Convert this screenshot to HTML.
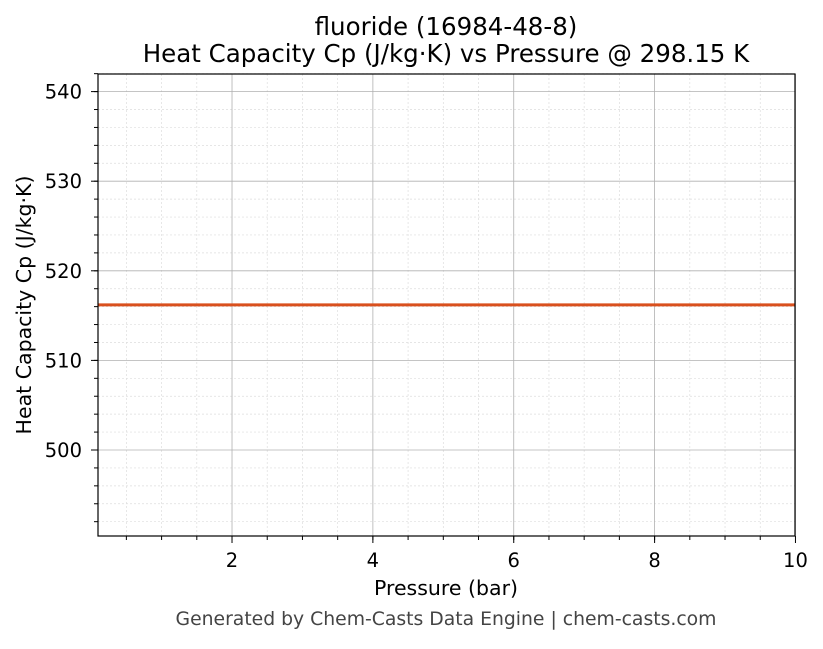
<!DOCTYPE html><html><head><style>body{margin:0;background:#fff}text{font-family:"DejaVu Sans","Liberation Sans",sans-serif}</style></head><body>
<svg width="823" height="644" xmlns="http://www.w3.org/2000/svg">
<rect width="823" height="644" fill="#fff"/>
<g id="g"></g>
<text x="446" y="35" font-size="24.5" text-anchor="middle">fluoride (16984-48-8)</text>
<text x="446" y="62" font-size="24.5" text-anchor="middle">Heat Capacity Cp (J/kg·K) vs Pressure @ 298.15 K</text>
<text x="446" y="595" font-size="20.5" text-anchor="middle">Pressure (bar)</text>
<text x="446" y="625" font-size="18.8" fill="#444" text-anchor="middle">Generated by Chem-Casts Data Engine | chem-casts.com</text>
<text transform="translate(31,305) rotate(-90)" font-size="20.5" text-anchor="middle">Heat Capacity Cp (J/kg·K)</text>
</svg>
<script>
const s=document.querySelector('svg'),g=document.getElementById('g');let h='';
const X=v=>98.2+(v-0.1)*70.43,Y=v=>450-(v-500)*8.96;
for(let v=0.5;v<10;v+=0.5){if(v%2)h+=`<line x1="${X(v)}" x2="${X(v)}" y1="74" y2="536" stroke="#ddd" stroke-width="0.7" stroke-dasharray="2,2"/>`;h+=`<line x1="${X(v)}" x2="${X(v)}" y1="536" y2="540" stroke="#000"/>`;}
for(let v=492;v<=542;v+=2){if(v%10)h+=`<line x1="98" x2="795" y1="${Y(v)}" y2="${Y(v)}" stroke="#ddd" stroke-width="0.7" stroke-dasharray="2,2"/>`;h+=`<line x1="94" x2="98" y1="${Y(v)}" y2="${Y(v)}" stroke="#000"/>`;}
for(let v=2;v<=10;v+=2){h+=`<line x1="${X(v)}" x2="${X(v)}" y1="74" y2="536" stroke="#b0b0b0" stroke-width="0.8"/><line x1="${X(v)}" x2="${X(v)}" y1="536" y2="543" stroke="#000"/><text x="${X(v)}" y="567" font-size="19.5" text-anchor="middle">${v}</text>`;}
for(let v=500;v<=540;v+=10){h+=`<line x1="98" x2="795" y1="${Y(v)}" y2="${Y(v)}" stroke="#b0b0b0" stroke-width="0.8"/><line x1="91" x2="98" y1="${Y(v)}" y2="${Y(v)}" stroke="#000"/><text x="82" y="${Y(v)+7}" font-size="19.5" text-anchor="end">${v}</text>`;}
h+=`<line x1="98" x2="795" y1="${Y(516.2)}" y2="${Y(516.2)}" stroke="#d9501e" stroke-width="3"/>`;
h+=`<rect x="98" y="74" width="697" height="462" fill="none" stroke="#000" stroke-width="1.2"/>`;
g.innerHTML=h;
</script></body></html>
